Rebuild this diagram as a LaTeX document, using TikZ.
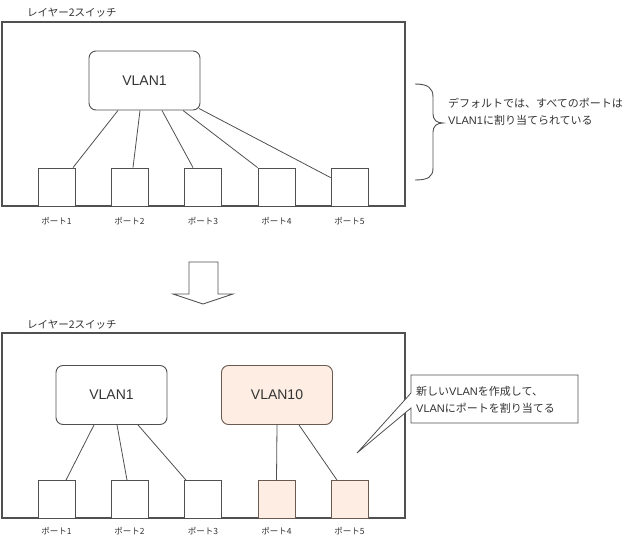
\documentclass[tikz,border=0pt]{standalone}
\usepackage{fontspec}
\setmainfont{Liberation Sans}
\newfontfamily\jp{Noto Sans CJK JP}
\definecolor{ln}{HTML}{505050}
\definecolor{tx}{HTML}{333333}
\definecolor{peach}{HTML}{FDEDE2}
\definecolor{peachln}{HTML}{6A5A50}
\begin{document}
\begin{tikzpicture}[x=1pt,y=-1pt,
  panel/.style={draw=ln,line width=1.1pt},
  vlanbox/.style={draw=ln,line width=0.9pt,rounded corners=7pt,fill=white,minimum width=111pt,minimum height=59pt,inner sep=0pt,text=tx,font=\fontsize{14}{16}\selectfont},
  portbox/.style={draw=ln,line width=0.8pt,fill=white,minimum width=37pt,minimum height=38pt,inner sep=0pt},
  plabel/.style={text=tx,font=\jp\fontsize{8.5}{10}\selectfont,inner sep=0pt},
  title/.style={text=tx,font=\jp\fontsize{10.5}{12}\selectfont,inner sep=0pt,anchor=west},
  conn/.style={draw=ln,line width=0.8pt},
  note/.style={text=tx,font=\fontsize{11}{17}\selectfont,inner sep=0pt,align=left,anchor=west}]
\useasboundingbox (0,0) rectangle (640,546);
\fill[white] (0,0) rectangle (640,546);

% ---------- top panel ----------
\node[title] (t1) at (27,13) {レイヤー2スイッチ};
\draw[panel] (2,22) rectangle (405,206);
\node[vlanbox] (va) at (144.5,80.5) {VLAN1};
\foreach \i/\x in {1/56.5,2/129.5,3/203,4/276.5,5/349.5}{
  \node[portbox] (pa\i) at (\x,187) {};
  \node[plabel] (la\i) at (\x,221) {ポート\i};
}
\draw[conn] ([xshift=-26.5pt]va.south) -- ([xshift=16.5pt]pa1.north);
\draw[conn] ([xshift=-4.5pt]va.south) -- ([xshift=3.5pt]pa2.north);
\draw[conn] ([xshift=17.5pt]va.south) -- ([xshift=-10pt]pa3.north);
\draw[conn] ([xshift=38.5pt]va.south) -- (pa4.north west);
\draw[conn] ([xshift=-1.5pt,yshift=2pt]va.south east) -- ([yshift=-10pt]pa5.north west);

% brace + note
\draw[draw=ln,line width=0.9pt] (415,84) .. controls (428,84) and (433,88) .. (433,97)
  -- (433,114) .. controls (433,120) and (437,123) .. (443,123)
  .. controls (437,123) and (433,126) .. (433,132)
  -- (433,168) .. controls (433,177) and (428,180) .. (415,180);
\node[note] (n1) at (448,112) {{\jp デフォルトでは、すべてのポートは}\\VLAN1{\jp に割り当てられている}};

% ---------- arrow ----------
\draw[draw=ln,line width=0.8pt,fill=white] (189,262) -- (218,262) -- (218,294) -- (233,294)
  -- (203,304) -- (173,294) -- (189,294) -- cycle;

% ---------- bottom panel ----------
\node[title] (t2) at (27,325) {レイヤー2スイッチ};
\draw[panel] (2,333) rectangle (405,518);
\node[vlanbox] (vb) at (111.5,395) {VLAN1};
\node[vlanbox,fill=peach,draw=peachln] (vc) at (277,395) {VLAN10};
\foreach \i/\x in {1/56.5,2/129.5,3/203,4/276.5,5/349.5}{
  \node[portbox] (pb\i) at (\x,499.5) {};
  \node[plabel] (lb\i) at (\x,531) {ポート\i};
}
\path (pb4) node[portbox,fill=peach,draw=peachln] (qb4) {};
\path (pb5) node[portbox,fill=peach,draw=peachln] (qb5) {};
\draw[conn] ([xshift=-17.5pt]vb.south) -- ([xshift=9.5pt]pb1.north);
\draw[conn] ([xshift=5.5pt]vb.south) -- ([xshift=-2.5pt]pb2.north);
\draw[conn] ([xshift=26.5pt]vb.south) -- ([xshift=-17pt]pb3.north);
\draw[conn] (vc.south) -- (qb4.north);
\draw[conn] ([xshift=22pt]vc.south) -- ([xshift=-12.5pt]qb5.north);

% callout
\coordinate (tip) at (357,453);
\draw[draw=ln,line width=0.8pt,fill=white] (411,375) -- (578,375) -- (578,423) -- (411,423)
  -- (411,408) -- (tip) -- (411,393) -- cycle;
\node[note] (n2) at (416,400) {{\jp 新しい}VLAN{\jp を作成して、}\\VLAN{\jp にポートを割り当てる}};
\end{tikzpicture}
\end{document}
